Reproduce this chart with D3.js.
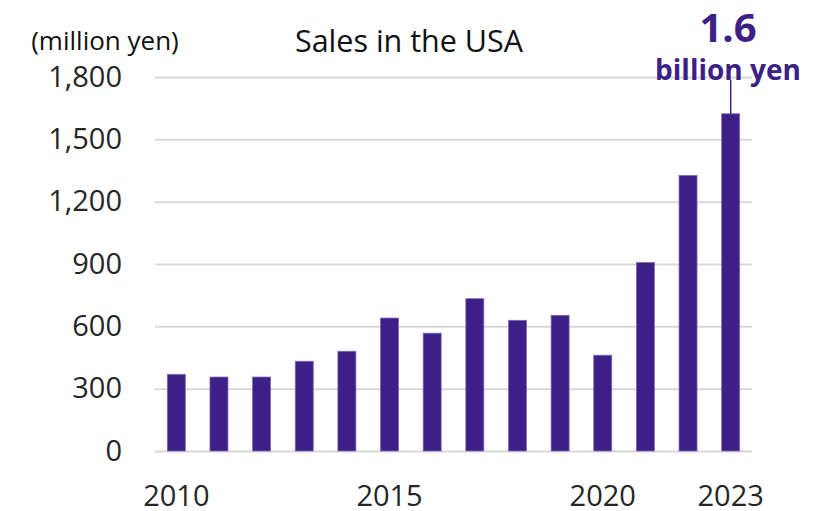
<!DOCTYPE html>
<html>
<head>
<meta charset="utf-8">
<script src="https://cdn.jsdelivr.net/npm/d3@7"></script>
<style>
  html, body { margin: 0; padding: 0; background: #ffffff; }
  svg { display: block; font-family: "Open Sans", "Noto Sans", sans-serif; }
</style>
</head>
<body>
<svg id="chart" width="817" height="511"></svg>
<script>
// Annual sales in the USA (million yen)
const years = [2010, 2011, 2012, 2013, 2014, 2015, 2016, 2017, 2018, 2019, 2020, 2021, 2022, 2023];
const sales = [369, 356, 356, 432, 480, 640, 567, 733, 629, 653, 461, 907, 1326, 1623];
const yTicks = [0, 300, 600, 900, 1200, 1500, 1800];
const xLabelYears = [2010, 2015, 2020, 2023];
const chartTitle = "Sales in the USA";
const unitLabel = "(million yen)";
const calloutValue = "1.6";
const calloutUnit = "billion yen";

const barColor = "#3c1f87";
const gridColor = "#d9d9d9";
const textColor = "#262626";

const svg = d3.select("#chart");
const plot = { left: 155, right: 752, top: 77, bottom: 451 };

const x = d3.scaleBand()
  .domain(years)
  .range([plot.left, plot.right])
  .paddingInner(0.578)
  .paddingOuter(0.289);

const y = d3.scaleLinear()
  .domain([0, 1800])
  .range([plot.bottom, plot.top]);

// Horizontal gridlines with tick labels
const yAxis = svg.append("g")
  .attr("transform", `translate(${plot.left},0)`)
  .call(d3.axisLeft(y)
    .tickValues(yTicks)
    .tickSize(-(plot.right - plot.left))
    .tickPadding(33)
    .tickFormat(d3.format(",")));
yAxis.select(".domain").remove();
yAxis.selectAll(".tick line")
  .attr("stroke", gridColor)
  .attr("stroke-width", 2);
yAxis.selectAll(".tick text")
  .attr("fill", textColor)
  .attr("font-size", 29)
  .attr("font-family", "Open Sans, Noto Sans, sans-serif");

// Bars
svg.append("g")
  .selectAll("rect")
  .data(years.map((yr, i) => ({ year: yr, value: sales[i] })))
  .join("rect")
  .attr("x", d => x(d.year))
  .attr("width", x.bandwidth())
  .attr("y", d => y(d.value))
  .attr("height", d => y(0) - y(d.value))
  .attr("fill", barColor)
  .attr("stroke", "#7d6bb8")
  .attr("stroke-width", 0.8);

// Year labels under selected bars
const xAxis = svg.append("g")
  .attr("transform", `translate(0,${plot.bottom})`)
  .call(d3.axisBottom(x)
    .tickValues(xLabelYears)
    .tickSize(0)
    .tickPadding(0));
xAxis.select(".domain").remove();
xAxis.selectAll(".tick text")
  .attr("dy", null)
  .attr("y", 55)
  .attr("fill", textColor)
  .attr("font-size", 29)
  .attr("font-family", "Open Sans, Noto Sans, sans-serif");

// Title and unit
svg.append("text")
  .attr("x", 409)
  .attr("y", 52)
  .attr("text-anchor", "middle")
  .attr("font-size", 30.5)
  .attr("fill", "#111111")
  .text(chartTitle);

svg.append("text")
  .attr("x", 105)
  .attr("y", 50)
  .attr("text-anchor", "middle")
  .attr("font-size", 26)
  .attr("fill", "#111111")
  .text(unitLabel);

// Callout for the latest year
const lastYear = years[years.length - 1];
const lastValue = sales[sales.length - 1];
const cx = x(lastYear) + x.bandwidth() / 2;

svg.append("line")
  .attr("x1", cx).attr("x2", cx)
  .attr("y1", 80)
  .attr("y2", y(lastValue))
  .attr("stroke", barColor)
  .attr("stroke-width", 1.5);

svg.append("text")
  .attr("x", 728)
  .attr("y", 42)
  .attr("text-anchor", "middle")
  .attr("font-size", 40)
  .attr("font-weight", 700)
  .attr("fill", barColor)
  .text(calloutValue);

svg.append("text")
  .attr("x", 728)
  .attr("y", 80)
  .attr("text-anchor", "middle")
  .attr("font-size", 28)
  .attr("font-weight", 700)
  .attr("fill", barColor)
  .text(calloutUnit);
</script>
</body>
</html>
